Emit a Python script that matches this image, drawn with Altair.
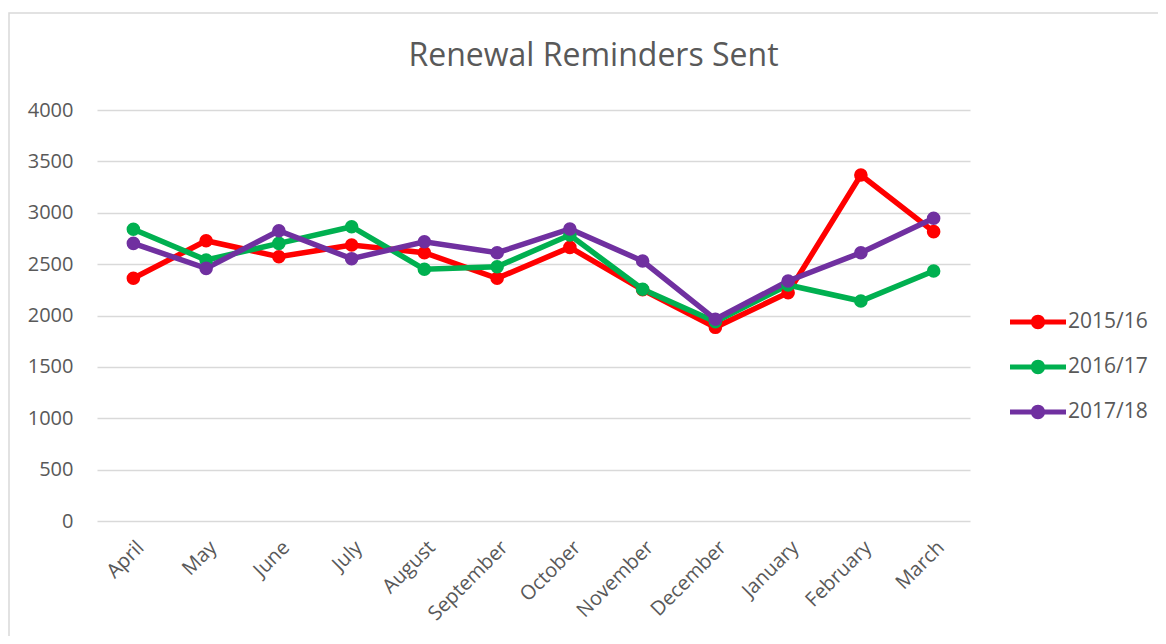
import altair as alt
import pandas as pd

months = ["April", "May", "June", "July", "August", "September", "October",
          "November", "December", "January", "February", "March"]
series = ["2015/16", "2016/17", "2017/18"]
colors = ["#FF0000", "#00B050", "#7030A0"]
y2015 = [2362, 2728, 2572, 2686, 2611, 2362, 2663, 2250, 1885, 2222, 3367, 2816]
y2016 = [2839, 2540, 2702, 2864, 2450, 2475, 2783, 2255, 1940, 2297, 2141, 2433]
y2017 = [2702, 2459, 2825, 2553, 2718, 2611, 2842, 2530, 1963, 2336, 2611, 2946]
y_ticks = [0, 500, 1000, 1500, 2000, 2500, 3000, 3500, 4000]

rows = []
for s, vals in zip(series, [y2015, y2016, y2017]):
    for m, v in zip(months, vals):
        rows.append({"Month": m, "Series": s, "Value": v})
df = pd.DataFrame(rows)

FONT = "Open Sans"
TXT = "#595959"
GRID = "#D9D9D9"

x_enc = alt.X("Month:N", sort=months,
              scale=alt.Scale(paddingInner=0, paddingOuter=0),
              axis=alt.Axis(title=None, labelAngle=-45, labelFontSize=20, labelColor=TXT,
                            labelFont=FONT, ticks=False, domain=False, grid=False,
                            labelPadding=16))
y_enc = alt.Y("Value:Q", scale=alt.Scale(domain=[0, 4000]),
              axis=alt.Axis(title=None, values=y_ticks, format="d", labelFontSize=20,
                            labelColor=TXT, labelFont=FONT, ticks=False, domain=False,
                            gridColor=GRID, gridWidth=1.5, labelPadding=24))
color_scale = alt.Scale(domain=series, range=colors)

legend_path = ("M-1.4,-0.13 L1.4,-0.13 L1.4,0.13 L-1.4,0.13 Z "
               "M0.36,0 A0.36,0.36 0 1,1 -0.36,0 A0.36,0.36 0 1,1 0.36,0 Z")
legend = alt.Legend(title=None, orient="none", legendX=921, legendY=192,
                    symbolType=legend_path, symbolSize=1600,
                    symbolStrokeWidth=0, symbolOpacity=1, labelFontSize=21,
                    labelColor=TXT, labelFont=FONT, labelOffset=10,
                    rowPadding=15)

border = alt.Chart(pd.DataFrame({"a": [0]})).mark_rect(
    fill=None, stroke=GRID, strokeWidth=1.5
).encode(x=alt.value(-88), x2=alt.value(1100), y=alt.value(-97), y2=alt.value(600))

lines = alt.Chart(df).mark_line(strokeWidth=5.5).encode(
    x=x_enc, y=y_enc,
    color=alt.Color("Series:N", scale=color_scale, legend=legend),
    detail="Series:N",
)
points = alt.Chart(df).mark_point(filled=True, size=185, opacity=1).encode(
    x=x_enc, y=y_enc,
    color=alt.Color("Series:N", scale=color_scale, legend=legend),
)

chart = alt.layer(border, lines, points).properties(
    width=873, height=411,
    title=alt.TitleParams("Renewal Reminders Sent", fontSize=32, font=FONT,
                          fontWeight="normal", color=TXT, anchor="middle", dx=60,
                          frame="group", offset=-61),
    autosize=alt.AutoSizeParams(type="none"),
    padding={"left": 89, "top": 102, "right": 188, "bottom": 115},
).configure_view(stroke=None)

chart.save("out.html", embed_options={"renderer": "svg", "actions": False})
